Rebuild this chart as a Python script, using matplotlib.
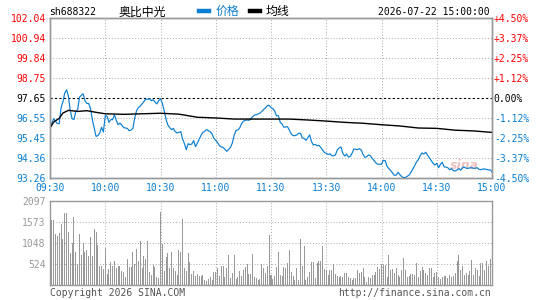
import matplotlib
matplotlib.use("Agg")
import matplotlib.pyplot as plt
import numpy as np

# ---------------- data ----------------
stock_code = "sh688322"
stock_name = "奥比中光"
timestamp = "2026-07-22 15:00:00"

price = [
    96.05, 96.29, 96.53, 96.39, 96.26, 96.26, 97.12, 97.45, 97.94, 98.12,
    97.76, 96.97, 96.53, 96.48, 96.93, 97.03, 97.70, 97.81, 97.90, 97.52,
    97.37, 97.37, 97.08, 96.48, 96.02, 95.56, 95.60, 95.75, 96.06, 95.80,
    96.70, 96.66, 96.33, 96.48, 96.48, 96.75, 96.44, 96.20, 96.29, 96.17,
    96.04, 96.02, 96.00, 95.87, 95.91, 96.00, 96.57, 96.97, 97.14, 97.23,
    97.34, 97.48, 97.61, 97.59, 97.63, 97.52, 97.57, 97.45, 97.34, 97.52,
    97.63, 97.37, 96.97, 96.51, 96.18, 96.04, 95.93, 96.00, 95.82, 95.75,
    95.78, 95.82, 95.42, 95.16, 94.83, 95.16, 95.11, 95.14, 95.33, 95.00,
    95.18, 95.40, 95.62, 95.78, 95.84, 95.93, 95.87, 95.82, 95.69, 95.45,
    95.34, 95.22, 95.05, 94.98, 94.96, 94.85, 94.74, 94.85, 94.96, 95.20,
    95.62, 95.89, 95.91, 96.02, 96.26, 96.39, 96.44, 96.46, 96.44, 96.51,
    96.64, 96.73, 96.75, 96.79, 96.84, 96.93, 97.04, 97.12, 97.25, 97.26,
    97.15, 97.08, 96.95, 96.68, 96.70, 96.33, 96.24, 96.06, 96.08, 96.09,
    95.89, 95.69, 95.60, 95.60, 95.64, 95.73, 95.73, 95.47, 95.45, 95.34,
    95.49, 95.64, 95.27, 95.09, 95.12, 95.05, 95.07, 94.96, 94.81, 94.68,
    94.63, 94.56, 94.61, 94.50, 94.50, 94.54, 94.83, 94.92, 94.98, 94.63,
    94.48, 94.59, 94.43, 94.45, 94.63, 94.87, 94.85, 94.83, 94.89, 94.81,
    94.57, 94.41, 94.45, 94.54, 94.50, 94.34, 94.23, 94.10, 94.03, 94.03,
    94.03, 94.25, 94.23, 93.92, 93.79, 93.68, 93.55, 93.42, 93.44, 93.59,
    93.46, 93.35, 93.30, 93.30, 93.37, 93.44, 93.59, 93.77, 93.95, 94.16,
    94.28, 94.50, 94.65, 94.59, 94.69, 94.54, 94.39, 94.25, 94.08, 93.99,
    94.08, 93.84, 94.03, 94.14, 93.88, 93.88, 93.84, 93.73, 93.79, 93.68,
    93.66, 93.72, 93.79, 93.70, 93.84, 93.88, 93.81, 93.81, 93.83, 93.84,
    93.81, 93.81, 93.84, 93.75, 93.73, 93.77, 93.77, 93.75, 93.72, 93.72,
    93.62,
]

avg_minutes = [0, 2, 5, 7, 10, 15, 20, 25, 30, 40, 50, 60, 70, 80, 90, 100,
               110, 120, 130, 140, 150, 160, 170, 180, 190, 200, 210, 220, 230, 240]
avg_price = [96.02, 96.35, 96.55, 96.84, 96.99, 96.93, 96.97, 96.88, 96.80, 96.77,
             96.80, 96.83, 96.78, 96.61, 96.57, 96.51, 96.51, 96.51, 96.51, 96.46,
             96.40, 96.33, 96.28, 96.20, 96.13, 96.02, 96.00, 95.90, 95.86, 95.78]

volume = [
    839, 1630, 1630, 1280, 1230, 1297, 1530, 1155, 1813, 1813,
    1330, 814, 1047, 1713, 839, 531, 1280, 756, 1047, 839,
    881, 740, 1197, 740, 1397, 1339, 1006, 482, 482, 407,
    923, 282, 415, 590, 482, 606, 440, 482, 482, 365,
    340, 215, 656, 465, 465, 839, 523, 906, 606, 1114,
    423, 740, 656, 1106, 340, 257, 507, 448, 215, 174,
    1838, 1023, 365, 715, 814, 423, 839, 440, 365, 257,
    881, 839, 1655, 423, 365, 814, 590, 282, 365, 240,
    282, 232, 232, 257, 132, 116, 157, 215, 132, 340,
    323, 423, 232, 490, 490, 199, 423, 756, 190, 315,
    756, 157, 215, 357, 232, 382, 465, 523, 282, 282,
    781, 199, 174, 132, 149, 523, 423, 298, 482,
    1256, 257, 158, 232, 449, 840, 257, 232, 465, 440,
    549, 881, 341, 232, 133, 424, 133, 1156, 482, 990,
    133, 199, 324, 590, 590, 191, 549, 607, 607, 981,
    407, 382, 266, 382, 382, 532, 282, 232, 199, 232,
    199, 316, 299, 216, 191, 133, 191, 191, 382, 299,
    341, 440, 199, 83, 199, 191, 257, 257, 341, 465,
    407, 532, 507, 507, 199, 757, 382, 407, 299, 424,
    257, 199, 382, 673, 382, 199, 232, 274, 274, 257,
    549, 199, 366, 465, 382, 299, 257, 424, 424, 199,
    299, 341, 199, 149, 199, 232, 232, 174, 257, 199,
    232, 316, 615, 757, 382, 482, 257, 299, 257, 357,
    632, 257, 440, 382, 232, 549, 549, 382, 607, 482,
    657,
]

price_levels = [93.26, 94.36, 95.45, 96.55, 97.65, 98.75, 99.84, 100.94, 102.04]
price_labels = ["93.26", "94.36", "95.45", "96.55", "97.65", "98.75", "99.84", "100.94", "102.04"]
pct_labels = ["-4.50%", "-3.37%", "-2.25%", "-1.12%", "0.00%", "+1.12%", "+2.25%", "+3.37%", "+4.50%"]
prev_close = 97.65
time_ticks = [0, 30, 60, 90, 120, 150, 180, 210, 240]
time_labels = ["09:30", "10:00", "10:30", "11:00", "11:30", "13:30", "14:00", "14:30", "15:00"]
vol_levels = [0, 524, 1048, 1573, 2097]
vol_labels = ["", "524", "1048", "1573", "2097"]

# ---------------- style ----------------
RED = "#ff0000"
BLUE = "#0a7ed2"
GRAY = "#999999"
GRID = "#aaaaaa"
MONO = "DejaVu Sans Mono"
CJK = ["Noto Sans CJK SC", "DejaVu Sans"]
FS = 7.0

W, H = 545, 300
fig = plt.figure(figsize=(W / 100, H / 100), dpi=100)
fig.patch.set_facecolor("white")

def fbox(x0, y0, x1, y1):
    return [x0 / W, 1 - y1 / H, (x1 - x0) / W, (y1 - y0) / H]

ax = fig.add_axes(fbox(50, 18.3, 492, 178.3))
axv = fig.add_axes(fbox(50, 201.3, 492, 285.3))

minutes = np.arange(len(price))
vmin = np.arange(len(volume))

# price panel
ax.set_xlim(0, 240)
ax.set_ylim(price_levels[0], price_levels[-1])
for lv in price_levels[1:-1]:
    if abs(lv - prev_close) < 1e-6:
        ax.axhline(lv, color="black", lw=0.8, ls=(0, (2, 2)), zorder=1)
    else:
        ax.axhline(lv, color=GRID, lw=0.7, ls=(0, (1, 2)), zorder=1)
for tt in time_ticks[1:-1]:
    ax.axvline(tt, color=GRID, lw=0.7, ls=(0, (1, 2)), zorder=1)

lp, = ax.plot(minutes, price, color=BLUE, lw=0.85, zorder=3)
la, = ax.plot(avg_minutes, avg_price, color="black", lw=1.0, zorder=4)

ax.text(233, 93.95, "sina", color="#e8b0b0", fontsize=9, fontweight="bold",
        fontstyle="italic", ha="right", va="center", alpha=0.8, zorder=2)

ax.set_yticks(price_levels)
ax.set_yticklabels(price_labels, fontfamily=MONO, fontsize=FS)
ax.set_xticks(time_ticks)
ax.set_xticklabels(time_labels, fontfamily=MONO, fontsize=FS, color=BLUE)
ax.tick_params(axis="both", length=0)
ax.tick_params(axis="y", pad=3)
ax.tick_params(axis="x", pad=3.2)
for lbl, lv in zip(ax.get_yticklabels(), price_levels):
    lbl.set_color(RED if lv > prev_close + 1e-6 else (BLUE if lv < prev_close - 1e-6 else "black"))

axr = ax.twinx()
axr.set_ylim(price_levels[0], price_levels[-1])
axr.set_yticks(price_levels)
axr.set_yticklabels(pct_labels, fontfamily=MONO, fontsize=FS)
axr.tick_params(axis="y", length=0, pad=1.3)
for lbl, lv in zip(axr.get_yticklabels(), price_levels):
    lbl.set_color(RED if lv > prev_close + 1e-6 else (BLUE if lv < prev_close - 1e-6 else "black"))

for a in (ax, axr, axv):
    for s in a.spines.values():
        s.set_color(GRAY)
        s.set_linewidth(1.0)

# volume panel
axv.set_xlim(0, 240)
axv.set_ylim(0, vol_levels[-1])
for lv in vol_levels[1:-1]:
    axv.axhline(lv, color=GRID, lw=0.7, ls=(0, (1, 2)), zorder=1)
for tt in time_ticks[1:-1]:
    axv.axvline(tt, color=GRID, lw=0.7, ls=(0, (1, 2)), zorder=1)
axv.bar(vmin, volume, width=0.55, color=GRAY, linewidth=0, zorder=2)
axv.set_yticks(vol_levels)
axv.set_yticklabels(vol_labels, fontfamily=MONO, fontsize=FS, color=GRAY)
axv.set_xticks([])
axv.tick_params(axis="y", length=0, pad=3)

# header
fig.text(48.6 / W, 1 - 12 / H, stock_code, fontfamily=MONO, fontsize=FS,
         color="black", ha="left", va="center")
fig.text(118.9 / W, 1 - 12 / H, stock_name, family=CJK, fontsize=8.6,
         color="black", ha="left", va="center")
fig.text(490 / W, 1 - 12 / H, timestamp, fontfamily=MONO, fontsize=FS,
         color="black", ha="right", va="center")

leg = fig.legend(handles=[lp, la], labels=["价格", "均线"], ncol=2,
                 loc="center left", bbox_to_anchor=(199 / W, 1 - 11.5 / H),
                 frameon=False, borderaxespad=0, borderpad=0,
                 handlelength=0.86, handletextpad=0.5, columnspacing=0.9,
                 prop={"family": CJK, "size": 8.6})
for ln in leg.get_lines():
    ln.set_linewidth(3.2)
leg.get_texts()[0].set_color(BLUE)
leg.get_texts()[1].set_color("black")

# footer
fig.text(49.5 / W, 1 - 292.5 / H, "Copyright 2026 SINA.COM", fontfamily=MONO,
         fontsize=FS, color="#555555", ha="left", va="center")
fig.text(491 / W, 1 - 292.5 / H, "http://finance.sina.com.cn", fontfamily=MONO,
         fontsize=FS, color="#555555", ha="right", va="center")

fig.savefig("out.png", dpi=100, facecolor="white")
